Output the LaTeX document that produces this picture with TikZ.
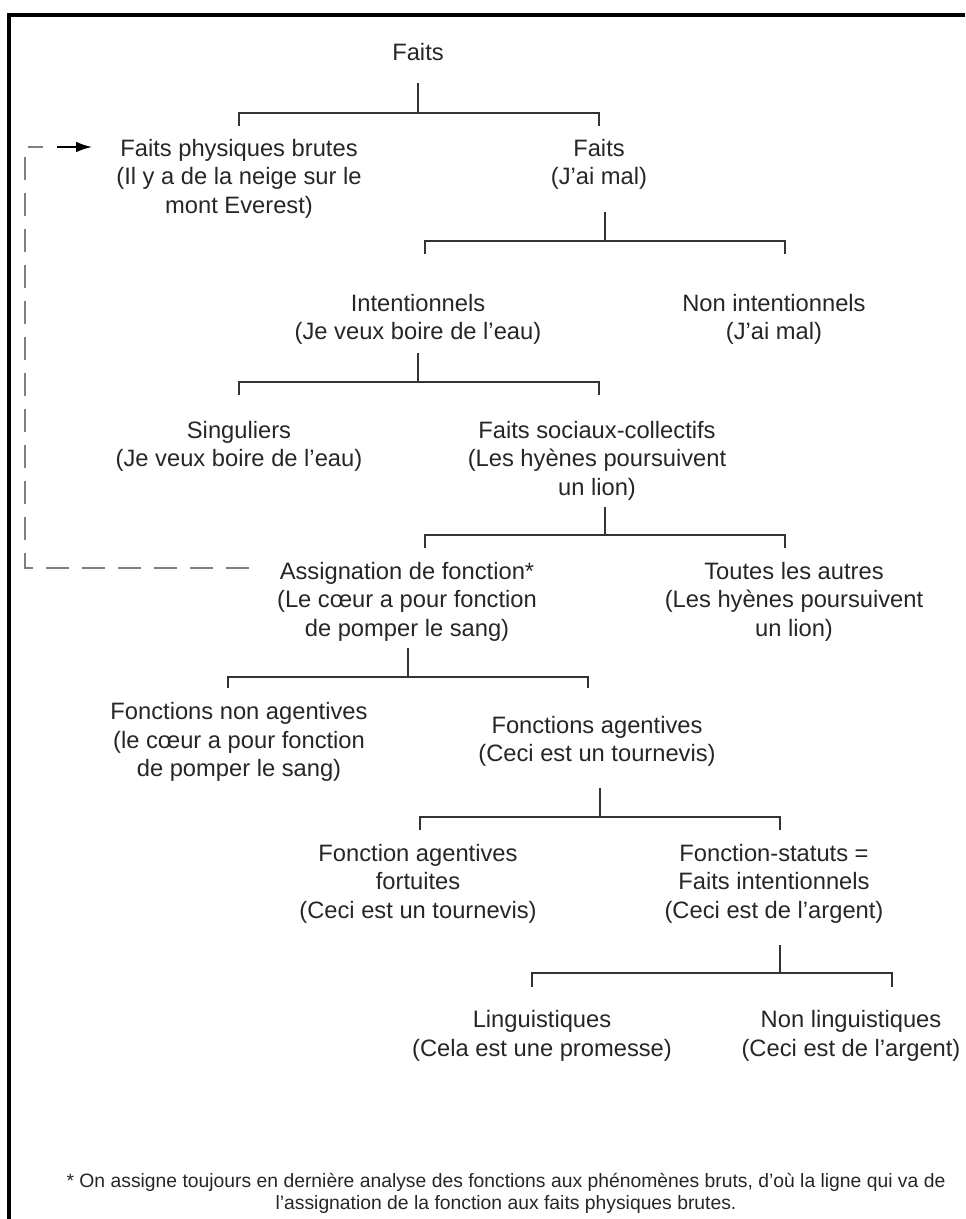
\documentclass[tikz,border=0pt]{standalone}
\usepackage{fontspec}
\setmainfont{Liberation Sans}
\usetikzlibrary{arrows.meta,calc}

\begin{document}
\begin{tikzpicture}[x=0.02cm,y=-0.02cm,
        texte/.style={align=center,font=\fontsize{13.5}{16.2}\selectfont,text=black!85,inner sep=0pt},
        note/.style={align=center,font=\fontsize{11}{12.5}\selectfont,text=black!85,inner sep=0pt},
        branche/.style={draw=black!80,line width=0.8pt},
        retour/.style={draw=black!50,line width=1.5pt,dash pattern=on 0.46cm off 0.26cm},
        fleche/.style={draw=black,line width=1pt,-{Latex[length=9pt,width=6pt]}},
        cadre/.style={line width=2.3pt}]
            % \draw[help lines] grid(965,1219);
            \useasboundingbox (0,0) rectangle (965,1219);
            \draw[cadre] (965,15) -- (9,15) -- (9,1219);

            \node[texte] (faits) at (418,52) {Faits};
            \node[texte] (physiques) at (239,178.5) {Faits physiques brutes\\(Il y a de la neige sur le\\mont Everest)};
            \node[texte] (faits2) at (599,164.5) {Faits\\(J’ai mal)};
            \node[texte] (intent) at (418,319.5) {Intentionnels\\(Je veux boire de l’eau)};
            \node[texte] (nonint) at (774,319.5) {Non intentionnels\\(J’ai mal)};
            \node[texte] (sing) at (239,446.5) {Singuliers\\(Je veux boire de l’eau)};
            \node[texte] (soc) at (597,460.5) {Faits sociaux-collectifs\\(Les hyènes poursuivent\\un lion)};
            \node[texte] (assig) at (407,601.5) {Assignation de fonction*\\(Le cœur a pour fonction\\de pomper le sang)};
            \node[texte] (toutes) at (794,601.5) {Toutes les autres\\(Les hyènes poursuivent\\un lion)};
            \node[texte] (fnonag) at (239,742) {Fonctions non agentives\\(le cœur a pour fonction\\de pomper le sang)};
            \node[texte] (fag) at (597,741.5) {Fonctions agentives\\(Ceci est un tournevis)};
            \node[texte] (fortuit) at (418,883.5) {Fonction agentives\\fortuites\\(Ceci est un tournevis)};
            \node[texte] (statut) at (774,883.5) {Fonction-statuts =\\Faits intentionnels\\(Ceci est de l’argent)};
            \node[texte] (ling) at (542,1036) {Linguistiques\\(Cela est une promesse)};
            \node[texte] (nonling) at (851,1036) {Non linguistiques\\(Ceci est de l’argent)};
            \node[note] (renvoi) at (506,1193) {* On assigne toujours en dernière analyse des fonctions aux phénomènes bruts, d’où la ligne qui va de\\l’assignation de la fonction aux faits physiques brutes.};

            % branches
            \draw[branche] (faits.center) ++(0,31) -- ++(0,30) coordinate (j1);
            \draw[branche] (physiques.center) ++(0,-52.5) |- (j1);
            \draw[branche] (faits2.center) ++(0,-38.5) |- (j1);

            \draw[branche] (faits2.center) ++(6,47.5) -- ++(0,29) coordinate (j2);
            \draw[branche] (intent.center) ++(7,-65.5) |- (j2);
            \draw[branche] (nonint.center) ++(11,-65.5) |- (j2);

            \draw[branche] (intent.center) ++(0,33.5) -- ++(0,29) coordinate (j3);
            \draw[branche] (sing.center) ++(0,-51.5) |- (j3);
            \draw[branche] (soc.center) ++(2,-65.5) |- (j3);

            \draw[branche] (soc.center) ++(8,46.5) -- ++(0,28) coordinate (j4);
            \draw[branche] (assig.center) ++(18,-53.5) |- (j4);
            \draw[branche] (toutes.center) ++(-9,-53.5) |- (j4);

            \draw[branche] (assig.center) ++(1,46.5) -- ++(0,29) coordinate (j5);
            \draw[branche] (fnonag.center) ++(-11,-54) |- (j5);
            \draw[branche] (fag.center) ++(-9,-53.5) |- (j5);

            \draw[branche] (fag.center) ++(3,46.5) -- ++(0,29) coordinate (j6);
            \draw[branche] (fortuit.center) ++(2,-53.5) |- (j6);
            \draw[branche] (statut.center) ++(6,-53.5) |- (j6);

            \draw[branche] (statut.center) ++(6,61.5) -- ++(0,28) coordinate (j7);
            \draw[branche] (ling.center) ++(-10,-49) |- (j7);
            \draw[branche] (nonling.center) ++(41,-49) |- (j7);

            % ligne de retour vers les faits bruts
            \coordinate (coinbas) at (25,568);
            \coordinate (coinhaut) at (25,147);
            \draw[retour] ($(assig.center)+(-158,-33.5)$) -- (coinbas) -- (coinhaut) -- ($(physiques.center)+(-196,-31.5)$);
            \draw[fleche] ($(physiques.center)+(-182,-31.5)$) -- ($(physiques.center)+(-147,-31.5)$);
        \end{tikzpicture}
\end{document}
